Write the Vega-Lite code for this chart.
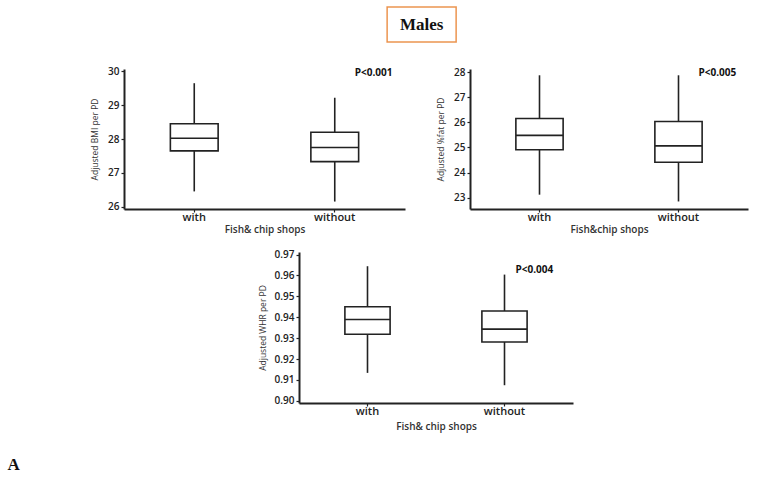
{
  "$schema": "https://vega.github.io/schema/vega-lite/v6.json",
  "background": "white",
  "padding": {"left": 7, "top": 6, "right": 5, "bottom": 4},
  "title": {"text": "A", "orient": "bottom", "anchor": "start", "dx": -83, "offset": 26, "font": "Liberation Serif", "fontSize": 17, "fontWeight": "bold", "color": "#111"},
  "spacing": 15,
  "center": true,
  "vconcat": [
    {
      "spacing": 23,
      "center": true,
      "vconcat": [
        {
          "width": 69,
          "height": 35,
          "view": {"stroke": "#EC9550", "strokeWidth": 1.5, "fill": "white"},
          "title": {"text": " ", "orient": "right", "offset": 24, "fontSize": 4},
          "data": {"values": [{"t": "Males"}]},
          "mark": {"type": "text", "font": "Liberation Serif", "fontWeight": "bold", "fontSize": 17, "color": "#111"},
          "encoding": {"text": {"field": "t"}}
        },
        {
          "spacing": 31,
          "hconcat": [
            {
              "width": 281,
              "height": 140,
              "encoding": {
                "x": {"field": "group", "type": "nominal", "scale": {"domain": ["with", "without"], "paddingInner": 0, "paddingOuter": 0}, "axis": {"title": "Fish& chip shops"}}
              },
              "layer": [
                {
                  "data": {"values": [
                    {"group": "with", "lower": 26.45, "q1": 27.65, "median": 28.02, "q3": 28.45, "upper": 29.65},
                    {"group": "without", "lower": 26.15, "q1": 27.33, "median": 27.75, "q3": 28.2, "upper": 29.22}
                  ]},
                  "layer": [
                    {
                      "mark": {"type": "rule", "stroke": "#222", "strokeWidth": 1.6},
                      "encoding": {
                        "y": {"field": "lower", "type": "quantitative", "scale": {"domain": [25.93, 30.07], "nice": false, "zero": false}, "axis": {"title": "Adjusted BMI per PD", "values": [26, 27, 28, 29, 30], "titlePadding": 8}},
                        "y2": {"field": "upper"}
                      }
                    },
                    {
                      "mark": {"type": "bar", "fill": "white", "stroke": "#222", "strokeWidth": 1.6, "width": {"band": 0.34}},
                      "encoding": {
                        "y": {"field": "q1", "type": "quantitative", "axis": {"title": "Adjusted BMI per PD", "values": [26, 27, 28, 29, 30], "titlePadding": 8}},
                        "y2": {"field": "q3"}
                      }
                    },
                    {
                      "mark": {"type": "tick", "color": "#222", "opacity": 1, "thickness": 1.6, "size": 48},
                      "encoding": {
                        "y": {"field": "median", "type": "quantitative", "axis": {"title": "Adjusted BMI per PD", "values": [26, 27, 28, 29, 30], "titlePadding": 8}}
                      }
                    }
                  ]
                },
                {
                  "data": {"values": [{"label": "P<0.001", "group": "without", "y": 29.94}]},
                  "mark": {"type": "text", "font": "Open Sans", "fontWeight": "bold", "fontSize": 10, "align": "left", "dx": 20, "color": "#111"},
                  "encoding": {
                    "y": {"field": "y", "type": "quantitative", "axis": {"title": "Adjusted BMI per PD", "values": [26, 27, 28, 29, 30], "titlePadding": 8}},
                    "text": {"field": "label"}
                  }
                }
              ]
            },
            {
              "width": 278,
              "height": 140,
              "encoding": {
                "x": {"field": "group", "type": "nominal", "scale": {"domain": ["with", "without"], "paddingInner": 0, "paddingOuter": 0}, "axis": {"title": "Fish&chip shops"}}
              },
              "layer": [
                {
                  "data": {"values": [
                    {"group": "with", "lower": 23.12, "q1": 24.91, "median": 25.48, "q3": 26.15, "upper": 27.87},
                    {"group": "without", "lower": 22.85, "q1": 24.41, "median": 25.06, "q3": 26.03, "upper": 27.87}
                  ]},
                  "layer": [
                    {
                      "mark": {"type": "rule", "stroke": "#222", "strokeWidth": 1.6},
                      "encoding": {
                        "y": {"field": "lower", "type": "quantitative", "scale": {"domain": [22.55, 28.12], "nice": false, "zero": false}, "axis": {"title": "Adjusted %fat per PD", "values": [23, 24, 25, 26, 27, 28], "titlePadding": 8}},
                        "y2": {"field": "upper"}
                      }
                    },
                    {
                      "mark": {"type": "bar", "fill": "white", "stroke": "#222", "strokeWidth": 1.6, "width": {"band": 0.34}},
                      "encoding": {
                        "y": {"field": "q1", "type": "quantitative", "axis": {"title": "Adjusted %fat per PD", "values": [23, 24, 25, 26, 27, 28], "titlePadding": 8}},
                        "y2": {"field": "q3"}
                      }
                    },
                    {
                      "mark": {"type": "tick", "color": "#222", "opacity": 1, "thickness": 1.6, "size": 47},
                      "encoding": {
                        "y": {"field": "median", "type": "quantitative", "axis": {"title": "Adjusted %fat per PD", "values": [23, 24, 25, 26, 27, 28], "titlePadding": 8}}
                      }
                    }
                  ]
                },
                {
                  "data": {"values": [{"label": "P<0.005", "group": "without", "y": 27.95}]},
                  "mark": {"type": "text", "font": "Open Sans", "fontWeight": "bold", "fontSize": 10, "align": "left", "dx": 20, "color": "#111"},
                  "encoding": {
                    "y": {"field": "y", "type": "quantitative", "axis": {"title": "Adjusted %fat per PD", "values": [23, 24, 25, 26, 27, 28], "titlePadding": 8}},
                    "text": {"field": "label"}
                  }
                }
              ]
            }
          ]
        }
      ]
    },
    {
      "width": 274,
      "height": 151,
      "encoding": {
        "x": {"field": "group", "type": "nominal", "scale": {"domain": ["with", "without"], "paddingInner": 0, "paddingOuter": 0}, "axis": {"title": "Fish& chip shops", "titlePadding": 5}}
      },
      "layer": [
        {
          "data": {"values": [
            {"group": "with", "lower": 0.9134, "q1": 0.9319, "median": 0.9389, "q3": 0.945, "upper": 0.9644},
            {"group": "without", "lower": 0.9075, "q1": 0.9282, "median": 0.9343, "q3": 0.943, "upper": 0.9604}
          ]},
          "layer": [
            {
              "mark": {"type": "rule", "stroke": "#222", "strokeWidth": 1.6},
              "encoding": {
                "y": {"field": "lower", "type": "quantitative", "scale": {"domain": [0.899, 0.9712], "nice": false, "zero": false}, "axis": {"title": "Adjusted WHR per PD", "values": [0.9, 0.91, 0.92, 0.93, 0.94, 0.95, 0.96, 0.97], "format": ".2f", "titlePadding": 7}},
                "y2": {"field": "upper"}
              }
            },
            {
              "mark": {"type": "bar", "fill": "white", "stroke": "#222", "strokeWidth": 1.6, "width": {"band": 0.33}},
              "encoding": {
                "y": {"field": "q1", "type": "quantitative", "axis": {"title": "Adjusted WHR per PD", "values": [0.9, 0.91, 0.92, 0.93, 0.94, 0.95, 0.96, 0.97], "format": ".2f", "titlePadding": 7}},
                "y2": {"field": "q3"}
              }
            },
            {
              "mark": {"type": "tick", "color": "#222", "opacity": 1, "thickness": 1.6, "size": 45},
              "encoding": {
                "y": {"field": "median", "type": "quantitative", "axis": {"title": "Adjusted WHR per PD", "values": [0.9, 0.91, 0.92, 0.93, 0.94, 0.95, 0.96, 0.97], "format": ".2f", "titlePadding": 7}}
              }
            }
          ]
        },
        {
          "data": {"values": [{"label": "P<0.004", "group": "without", "y": 0.9625}]},
          "mark": {"type": "text", "font": "Open Sans", "fontWeight": "bold", "fontSize": 10, "align": "left", "dx": 11, "color": "#111"},
          "encoding": {
            "y": {"field": "y", "type": "quantitative", "axis": {"title": "Adjusted WHR per PD", "values": [0.9, 0.91, 0.92, 0.93, 0.94, 0.95, 0.96, 0.97], "format": ".2f", "titlePadding": 7}},
            "text": {"field": "label"}
          }
        }
      ]
    }
  ],
  "config": {
    "view": {"stroke": null},
    "axis": {
      "grid": false,
      "domainColor": "#222",
      "domainWidth": 2,
      "tickColor": "#222",
      "tickWidth": 1.2,
      "tickSize": 3,
      "labelFont": "Open Sans",
      "labelColor": "#222",
      "labelFontWeight": 600,
      "labelOverlap": false,
      "titleFont": "Open Sans",
      "titleColor": "#333",
      "titleFontWeight": "normal"
    },
    "axisX": {"labelAngle": 0, "labelFontSize": 11, "labelPadding": -1, "titleFontSize": 10, "titlePadding": 2, "titleFontWeight": 600},
    "axisY": {"labelFontSize": 10, "labelPadding": 2, "titleFontSize": 8.5}
  }
}
